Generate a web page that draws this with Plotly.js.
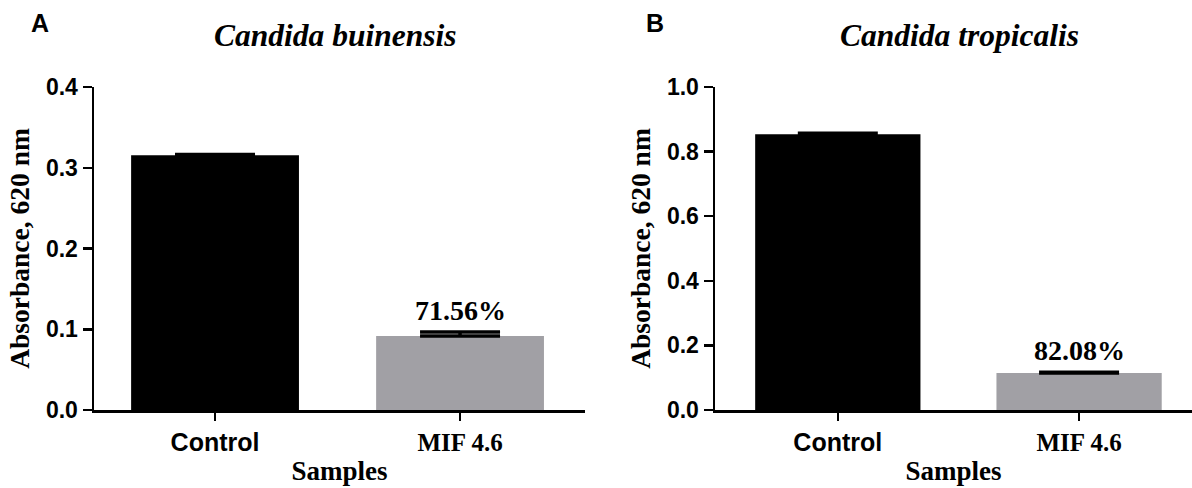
<!DOCTYPE html>
<html>
<head>
<meta charset="utf-8">
<script src="https://cdn.plot.ly/plotly-3.0.1.min.js"></script>
<style>html,body{margin:0;padding:0;background:#fff;}#chart{width:1192px;height:488px;}</style>
</head>
<body>
<div id="chart"></div>
<script>
// ---- data ----
const categories = ["Control", "MIF 4.6"];
const panelLetters = ["A", "B"];
const speciesTitles = ["Candida buinensis", "Candida tropicalis"];
const buinensisValues = [0.3156, 0.0916];
const buinensisErrors = [0.0008, 0.005];
const tropicalisValues = [0.854, 0.1146];
const tropicalisErrors = [0.003, 0.002];
const inhibitionLabels = ["71.56%", "82.08%"];
const yTickValsA = [0.0, 0.1, 0.2, 0.3, 0.4];
const yTickValsB = [0.0, 0.2, 0.4, 0.6, 0.8, 1.0];
const xAxisTitle = "Samples";
const yAxisTitle = "Absorbance, 620 nm";

// ---- styling ----
const barColors = ["#000000", "#a1a0a5"];
const sans = "Liberation Sans, Arial, sans-serif";
const serif = "Liberation Serif, Times New Roman, serif";
const tickTextFonts = [sans, serif];
const ticktext = categories.map((c, i) =>
  '<span style="font-family:' + tickTextFonts[i] + '">' + c + '</span>');

function barTrace(vals, errs, xa, ya) {
  return {
    type: "bar", x: categories, y: vals, xaxis: xa, yaxis: ya,
    width: 0.685,
    marker: {color: barColors, line: {width: 0}},
    error_y: {type: "data", array: errs, arrayminus: errs.map(() => 0), symmetric: false,
              color: "#000", thickness: 3.5, width: 40},
    hoverinfo: "x+y", showlegend: false
  };
}

const data = [
  barTrace(buinensisValues, buinensisErrors, "x", "y"),
  barTrace(tropicalisValues, tropicalisErrors, "x2", "y2")
];

const H = 488, W = 1192;
const yDom = [1 - 410 / H, 1 - 87 / H];

function xAxis(domain, range, anchor) {
  return {
    domain: domain, range: range, type: "category", anchor: anchor,
    tickmode: "array", tickvals: categories, ticktext: ticktext,
    ticks: "outside", ticklen: 8, tickwidth: 2.5, tickcolor: "#000",
    showline: true, linewidth: 2.5, linecolor: "#000",
    showgrid: false, zeroline: false, fixedrange: true,
    tickfont: {family: sans, size: 25, color: "#000", weight: "bold"},
    title: {text: xAxisTitle, font: {family: serif, size: 27, color: "#000", weight: "bold"}, standoff: 7},
    automargin: false
  };
}
function yAxis(range, tickvals, anchor) {
  return {
    domain: yDom, range: range, anchor: anchor,
    tickmode: "array", tickvals: tickvals, tickformat: ".1f",
    ticks: "outside", ticklen: 9, tickwidth: 2.5, tickcolor: "#000",
    showline: true, linewidth: 2.5, linecolor: "#000",
    showgrid: false, zeroline: false, fixedrange: true,
    tickfont: {family: sans, size: 23, color: "#000", weight: "bold"},
    title: {text: yAxisTitle, font: {family: serif, size: 27.5, color: "#000", weight: "bold"}, standoff: 9},
    automargin: false
  };
}

const annotations = [];
const panelX = [40, 655];
const titleX = [335, 960];
[buinensisValues, tropicalisValues].forEach((vals, p) => {
  const errs = p === 0 ? buinensisErrors : tropicalisErrors;
  annotations.push({
    xref: "paper", yref: "paper", x: panelX[p] / W, y: 1 - 23 / H,
    text: "<b>" + panelLetters[p] + "</b>", showarrow: false,
    font: {family: sans, size: 25, color: "#000"}, xanchor: "center", yanchor: "middle"
  });
  annotations.push({
    xref: "paper", yref: "paper", x: titleX[p] / W, y: 1 - 35 / H,
    text: "<b><i>" + speciesTitles[p] + "</i></b>", showarrow: false,
    font: {family: serif, size: 31.5, color: "#000"}, xanchor: "center", yanchor: "middle"
  });
  annotations.push({
    xref: p === 0 ? "x" : "x2", yref: p === 0 ? "y" : "y2",
    x: categories[1], y: vals[1] + errs[1],
    text: "<b>" + inhibitionLabels[p] + "</b>", showarrow: false,
    font: {family: serif, size: 28, color: "#000"}, xanchor: "center", yanchor: "bottom", yshift: 4
  });
});

const layout = {
  width: W, height: H,
  margin: {l: 0, r: 0, t: 0, b: 0},
  paper_bgcolor: "#fff", plot_bgcolor: "#fff",
  xaxis: xAxis([94 / W, 585 / W], [-0.494, 1.51], "y"),
  yaxis: yAxis([0, 0.4], yTickValsA, "x"),
  xaxis2: xAxis([715 / W, 1], [-0.509, 1.468], "y2"),
  yaxis2: yAxis([0, 1.0], yTickValsB, "x2"),
  annotations: annotations,
  showlegend: false
};

Plotly.newPlot("chart", data, layout, {displayModeBar: false, staticPlot: true});
</script>
</body>
</html>
